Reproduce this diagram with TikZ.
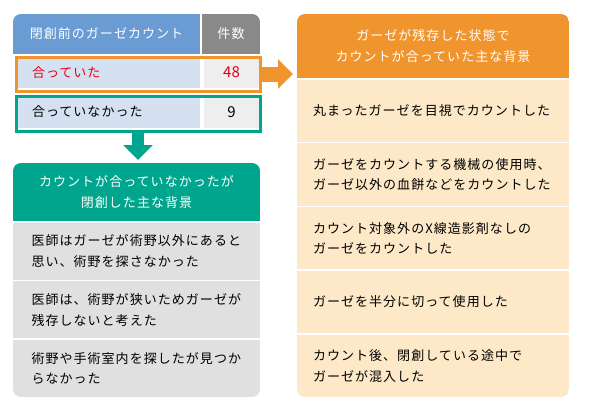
\documentclass[tikz,border=0pt]{standalone}
\usepackage{fontspec}
\setmainfont{Noto Sans CJK JP}[LetterSpace=8]
\newfontfamily\numfont{Noto Sans CJK JP}
\usetikzlibrary{positioning,arrows.meta}

\definecolor{hdblue}{RGB}{106,155,210}
\definecolor{hdgrey}{RGB}{137,137,137}
\definecolor{rowblue}{RGB}{213,224,240}
\definecolor{numgrey}{RGB}{238,238,238}
\definecolor{ngorange}{RGB}{240,149,45}
\definecolor{ngteal}{RGB}{0,165,142}
\definecolor{lgrey}{RGB}{224,224,224}
\definecolor{lorange}{RGB}{253,233,199}
\definecolor{okred}{RGB}{230,0,18}

\tikzset{
  txt/.style={font=\fontsize{13}{20.5}\selectfont, inner sep=0pt, outer sep=0pt},
  num/.style={font=\numfont\fontsize{15}{18}\selectfont},
  hcell/.style={txt, text=white, anchor=north west},
  cell/.style={txt, anchor=north west},
  frame/.style={line width=3pt, inner sep=0pt, minimum width=244pt, anchor=north west},
  lrow/.style={txt, fill=lgrey, minimum width=247pt, minimum height=57.2pt, text width=210pt, align=left},
  rrow/.style={txt, fill=lorange, minimum width=272pt, minimum height=62.3pt, text width=240pt, align=left},
  bigarrow/.style={line width=#1, -{Triangle[length=15pt,width=29pt]}},
}

\begin{document}
\begin{tikzpicture}[x=1pt,y=-1pt]
  \useasboundingbox (0,0) rectangle (589,415);
  \begin{scope}
    \clip[rounded corners=8pt] (13,14) rectangle (260,80);
    \node[hcell, fill=hdblue, minimum width=187pt, minimum height=40pt] (cnt) at (13,14) {閉創前のガーゼカウント};
    \node[hcell, fill=hdgrey, minimum width=58pt, minimum height=40pt] (cntnum) at (202,14) {件数};
  \end{scope}
  \node[cell, fill=rowblue, minimum width=184pt, minimum height=31pt, text width=152pt, align=left, text=okred] (ok) at (16,57) {合っていた};
  \node[cell, num, fill=numgrey, minimum width=55pt, minimum height=31pt, text=okred, xshift=2pt] (oknum) at (202,57) {48};
  \node[frame, draw=ngorange, minimum height=34pt] (okrow) at (14.5,55.5) {};
  \node[cell, fill=rowblue, minimum width=184pt, minimum height=32pt, text width=152pt, align=left] (ng) at (16,96) {合っていなかった};
  \node[cell, num, fill=numgrey, minimum width=55pt, minimum height=32pt, xshift=2pt] (ngnum) at (202,96) {9};
  \node[frame, draw=ngteal, minimum height=35pt] (ngrow) at (14.5,94.5) {};

  \begin{scope}
    \clip[rounded corners=8pt] (13,163) rectangle (260,397);
    \node[hcell, fill=ngteal, minimum width=247pt, minimum height=58pt, align=center] (lhead) at (13,163)
      {カウントが合っていなかったが\\閉創した主な背景};
    \node[lrow, below=1.5pt of lhead] (l1) {医師はガーゼが術野以外にあると\\思い、術野を探さなかった};
    \node[lrow, below=1.5pt of l1] (l2) {医師は、術野が狭いためガーゼが\\残存しないと考えた};
    \node[lrow, below=1.5pt of l2] (l3) {術野や手術室内を探したが見つか\\らなかった};
  \end{scope}

  \begin{scope}
    \clip[rounded corners=8pt] (297,14) rectangle (569,397);
    \node[hcell, fill=ngorange, minimum width=272pt, minimum height=64pt, align=center] (rhead) at (297,14)
      {ガーゼが残存した状態で\\カウントが合っていた主な背景};
    \node[rrow, below=1.5pt of rhead] (r1) {丸まったガーゼを目視でカウントした};
    \node[rrow, below=1.5pt of r1] (r2) {ガーゼをカウントする機械の使用時、\\ガーゼ以外の血餅などをカウントした};
    \node[rrow, below=1.5pt of r2] (r3) {カウント対象外のX線造影剤なしの\\ガーゼをカウントした};
    \node[rrow, below=1.5pt of r3] (r4) {ガーゼを半分に切って使用した};
    \node[rrow, below=1.5pt of r4] (r5) {カウント後、閉創している途中で\\ガーゼが混入した};
  \end{scope}

  \draw[bigarrow=15pt, ngorange, shorten >=4pt] (okrow.east) -- (okrow.east -| rhead.west);
  \draw[bigarrow=12pt, ngteal, shorten >=3pt] (ngrow.south) -- (ngrow.south |- lhead.north);
\end{tikzpicture}
\end{document}
